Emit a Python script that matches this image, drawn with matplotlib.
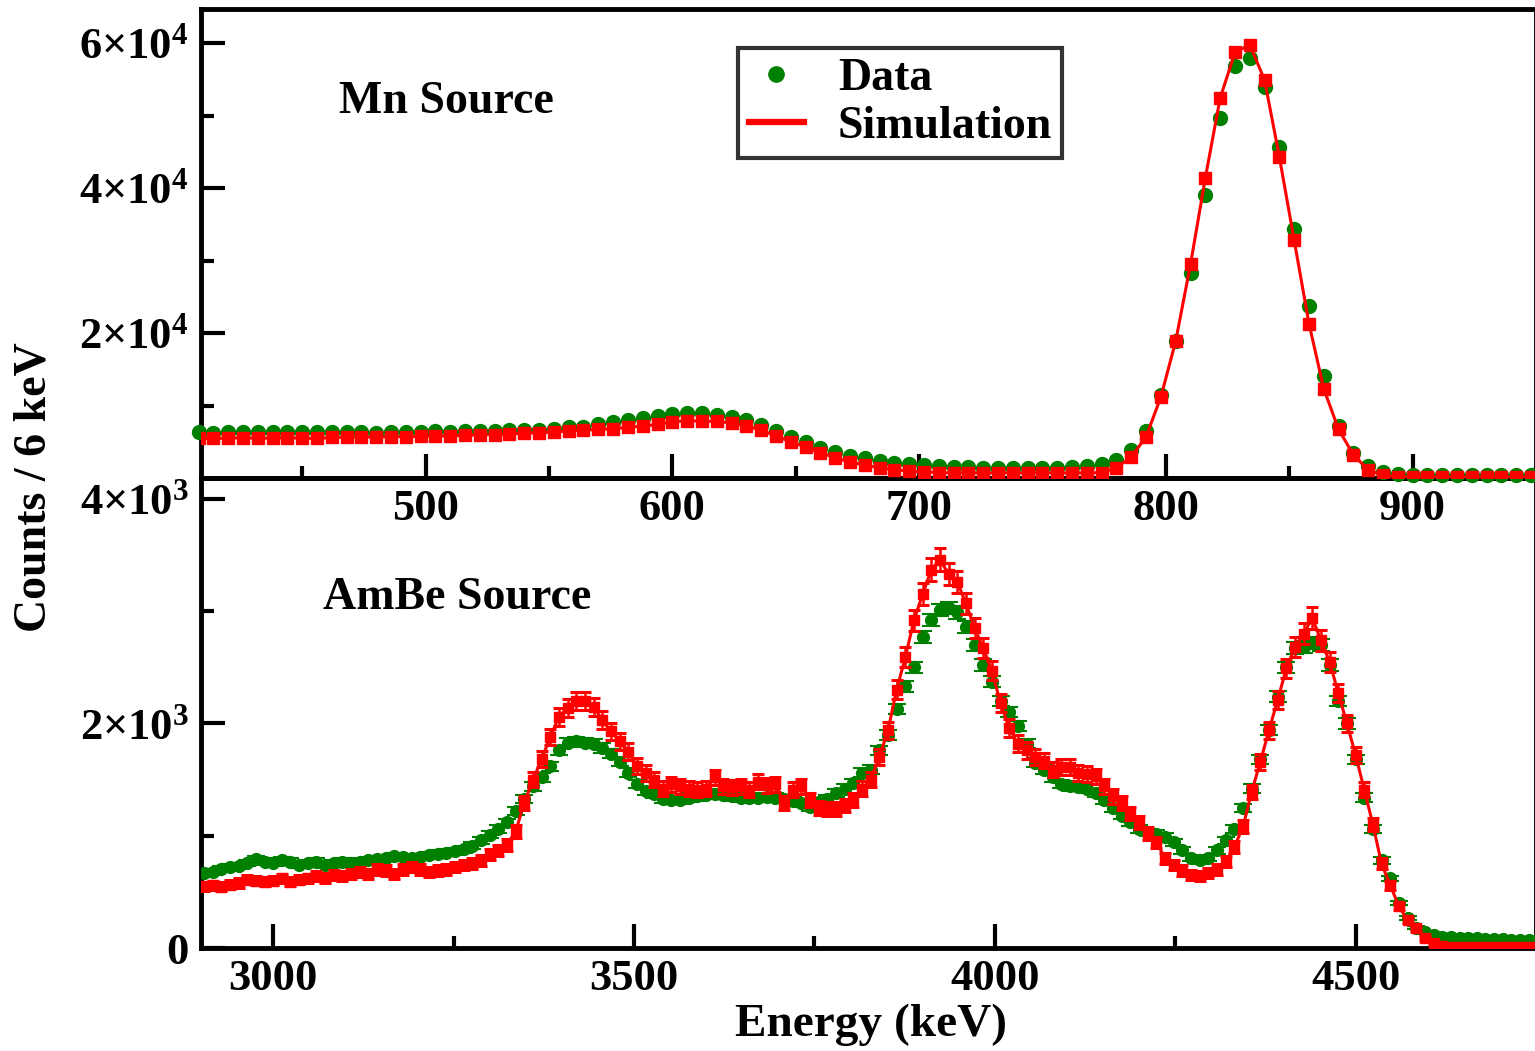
import numpy as np
import matplotlib
matplotlib.use("Agg")
import matplotlib.pyplot as plt
from matplotlib.lines import Line2D
from matplotlib.ticker import FixedLocator, FixedFormatter, MultipleLocator

plt.rcParams['font.family'] = 'Liberation Serif'
plt.rcParams['font.weight'] = 'bold'
plt.rcParams['mathtext.fontset'] = 'custom'
plt.rcParams['mathtext.rm'] = 'Liberation Serif:bold'
plt.rcParams['mathtext.default'] = 'regular'

# Mn source spectrum, 6 keV bins starting at 408 keV
mn_start, mn_step = 408, 6
mn_data = [6300, 6250, 6350, 6300, 6400, 6350, 6400, 6300, 6350, 6400,
           6300, 6350, 6250, 6400, 6350, 6400, 6450, 6400, 6500, 6550,
           6500, 6600, 6650, 6600, 6800, 7000, 7100, 7400, 7700, 8000,
           8300, 8600, 8800, 8950, 8900, 8700, 8400, 8000, 7300, 6500,
           5700, 4900, 4200, 3600, 3100, 2700, 2350, 2100, 1900, 1750,
           1600, 1500, 1450, 1400, 1380, 1380, 1380, 1380, 1420, 1480,
           1650, 1950, 2450, 3850, 6500, 11400, 18850, 28300, 39000, 49600,
           56800, 58000, 53900, 45700, 34400, 23700, 14100, 7200, 3400, 1600,
           850, 550, 450, 420, 400, 400, 390, 380, 380, 370,
           370]
mn_sim = [5500, 5450, 5500, 5550, 5500, 5500, 5550, 5500, 5450, 5600,
          5600, 5650, 5650, 5700, 5700, 5750, 5800, 5800, 5900, 5950,
          6000, 6050, 6200, 6250, 6350, 6500, 6600, 6700, 6800, 7000,
          7150, 7400, 7750, 7900, 7850, 7800, 7600, 7200, 6600, 5800,
          5000, 4300, 3500, 2800, 2200, 1800, 1400, 1150, 950, 850,
          750, 700, 700, 700, 700, 700, 700, 700, 700, 700,
          700, 750, 1400, 2900, 5700, 11200, 18900, 29500, 41400, 52400,
          58700, 59800, 54900, 44300, 32800, 21300, 12300, 6700, 3200, 1100,
          400, 150, 100, 100, 100, 100, 100, 100, 100, 100,
          100]

# AmBe source spectrum, 12 keV bins starting at 2904 keV
ambe_start, ambe_step = 2904, 12
ambe_data = [665, 680, 700, 720, 730, 760, 790, 770, 760, 780,
             770, 740, 760, 770, 740, 760, 770, 760, 770, 780,
             790, 800, 820, 810, 800, 810, 830, 840, 850, 860,
             880, 910, 960, 1010, 1060, 1120, 1220, 1330, 1440, 1520,
             1620, 1760, 1830, 1840, 1830, 1820, 1780, 1730, 1660, 1560,
             1460, 1400, 1370, 1330, 1320, 1320, 1340, 1350, 1365, 1375,
             1360, 1350, 1335, 1335, 1340, 1345, 1340, 1330, 1310, 1290,
             1260, 1300, 1330, 1380, 1420, 1470, 1560, 1590, 1760, 1900,
             2130, 2330, 2500, 2770, 2920, 3010, 3030, 2990, 2860, 2700,
             2520, 2370, 2200, 2100, 1980, 1820, 1650, 1590, 1520, 1460,
             1440, 1435, 1420, 1380, 1320, 1250, 1180, 1120, 1060, 1030,
             1020, 990, 940, 870, 800, 780, 800, 870, 960, 1060,
             1250, 1420, 1680, 1940, 2240, 2500, 2670, 2680, 2720, 2700,
             2520, 2200, 2000, 1680, 1340, 1060, 780, 620, 400, 270,
             180, 140, 115, 100, 95, 90, 85, 85, 80, 80,
             78, 75, 75, 72, 70]
ambe_sim = [550, 560, 545, 565, 580, 610, 600, 590, 600, 620,
            590, 610, 620, 640, 625, 650, 640, 660, 680, 655,
            700, 690, 660, 700, 720, 700, 680, 690, 700, 720,
            740, 750, 780, 830, 870, 920, 1040, 1290, 1500, 1680,
            1880, 2060, 2140, 2200, 2200, 2150, 2030, 1930, 1840, 1750,
            1620, 1560, 1500, 1420, 1460, 1440, 1420, 1410, 1420, 1520,
            1440, 1430, 1440, 1410, 1480, 1450, 1460, 1290, 1410, 1440,
            1320, 1250, 1240, 1240, 1270, 1320, 1420, 1500, 1700, 1940,
            2300, 2590, 2920, 3150, 3370, 3460, 3330, 3260, 3070, 2850,
            2670, 2470, 2180, 1960, 1820, 1760, 1700, 1670, 1590, 1610,
            1615, 1560, 1550, 1530, 1440, 1350, 1290, 1200, 1120, 1020,
            940, 800, 740, 690, 650, 640, 665, 700, 770, 900,
            1080, 1390, 1660, 1940, 2210, 2490, 2680, 2800, 2940, 2740,
            2550, 2270, 2000, 1720, 1410, 1100, 750, 560, 370, 250,
            175, 90, 45, 20, 10, 5, 5, 5, 5, 5,
            5, 5, 5, 5, 5]

# simulated statistics are ~3x lower than the measurement before scaling
sim_scale = 3.0

mn_data = np.array(mn_data, float)
mn_sim = np.array(mn_sim, float)
ambe_data = np.array(ambe_data, float)
ambe_sim = np.array(ambe_sim, float)
mn_e = mn_start + mn_step * np.arange(len(mn_data))
ambe_e = ambe_start + ambe_step * np.arange(len(ambe_data))

W, H = 1535, 1051
fig = plt.figure(figsize=(W / 100, H / 100), dpi=100)
x0, x1 = 201 / W, 1536 / W
ytop, ymid, ybot = 1 - 9 / H, 1 - 478 / H, 1 - 948 / H
ax2 = fig.add_axes([x0, ybot, x1 - x0, ymid - ybot])
ax1 = fig.add_axes([x0, ymid, x1 - x0, ytop - ymid])
# lower panel must not hide the upper panel's tick labels
ax2.patch.set_visible(False)
ax1.patch.set_visible(False)

for ax in (ax1, ax2):
    for s in ax.spines.values():
        s.set_linewidth(3.5)
    ax.tick_params(which='major', direction='in', length=17, width=3,
                   top=False, right=False)
    ax.tick_params(which='minor', direction='in', length=9, width=3,
                   top=False, right=False)
    ax.tick_params(axis='x', labelsize=32, pad=8)
    ax.tick_params(axis='y', labelsize=32, pad=9)

# --- Mn source
ax1.plot(mn_e, mn_data, 'o', color='green', ms=10, mec='green', clip_on=False, zorder=3)
ax1.plot(mn_e, mn_sim, 's-', color='red', ms=8, lw=2.2, zorder=4)
ax1.set_xlim(409, 950)
ax1.set_ylim(0, 64700)
ax1.xaxis.set_major_locator(MultipleLocator(100))
ax1.xaxis.set_minor_locator(MultipleLocator(50))
ax1.yaxis.set_major_locator(FixedLocator([20000, 40000, 60000]))
ax1.yaxis.set_major_formatter(FixedFormatter(['2×10$^{4}$', '4×10$^{4}$', '6×10$^{4}$']))
ax1.yaxis.set_minor_locator(FixedLocator([10000, 30000, 50000]))
ax1.text(0.1837, 0.8017, 'Mn Source', transform=ax1.transAxes,
         ha='center', va='center', fontsize=33)

handles = [Line2D([], [], marker='o', color='green', ls='none', ms=11),
           Line2D([], [], color='red', lw=4.5)]
leg = ax1.legend(handles, ['Data', 'Simulation'], loc='upper left',
                 bbox_to_anchor=(0.4026, 0.9168), borderaxespad=0,
                 fontsize=33, frameon=True, fancybox=False,
                 borderpad=0.22, handlelength=1.2, handletextpad=0.75,
                 labelspacing=0.12)
leg.get_frame().set_edgecolor('black')
leg.get_frame().set_linewidth(3)

# --- AmBe source
ax2.errorbar(ambe_e, ambe_data, yerr=np.sqrt(ambe_data), fmt='o',
             color='green', ms=8.5, elinewidth=1.5, capsize=6.5,
             capthick=1.5, zorder=3)
ax2.errorbar(ambe_e, ambe_sim, yerr=np.sqrt(ambe_sim * sim_scale), fmt='s-',
             color='red', ms=7.5, lw=2.2, elinewidth=1.8, capsize=4.5,
             capthick=2.2, zorder=4)
ax2.set_xlim(2900, 4750)
ax2.set_ylim(0, 4187)
ax2.xaxis.set_major_locator(MultipleLocator(500))
ax2.xaxis.set_minor_locator(MultipleLocator(250))
ax2.yaxis.set_major_locator(FixedLocator([0, 2000, 4000]))
ax2.yaxis.set_major_formatter(FixedFormatter(['0', '2×10$^{3}$', '4×10$^{3}$']))
ax2.yaxis.set_minor_locator(FixedLocator([1000, 3000]))
ax2.text(0.1919, 0.7447, 'AmBe Source', transform=ax2.transAxes,
         ha='center', va='center', fontsize=33)

fig.text(35 / W, 1 - 487 / H, 'Counts / 6 keV', rotation=90,
         ha='center', va='center', fontsize=33)
fig.text(871 / W, 1 - 1025 / H, 'Energy (keV)', ha='center', va='center',
         fontsize=34)

fig.savefig('out.png', dpi=100)
